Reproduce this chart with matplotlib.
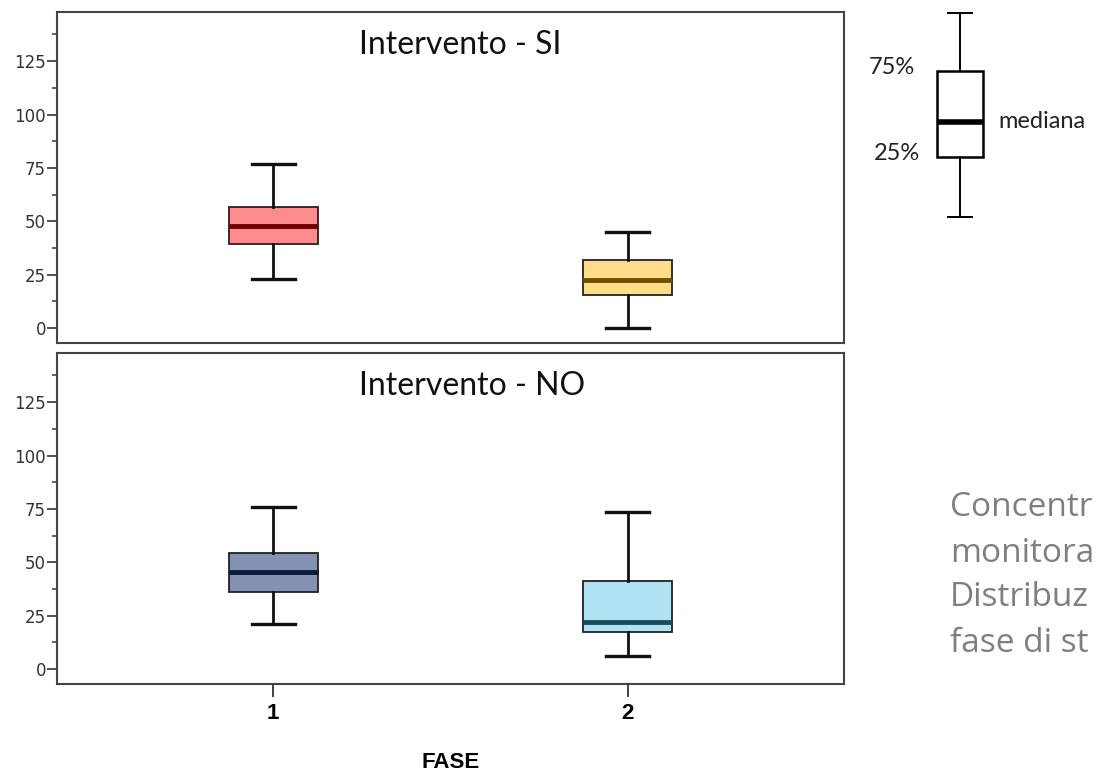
import matplotlib
matplotlib.use('Agg')
import matplotlib.pyplot as plt
from matplotlib.ticker import MultipleLocator

# box statistics (fase 1, fase 2)
fasi = [1, 2]
fase_labels = ['1', '2']

si_whislo = [23, 0]
si_q1 = [39.5, 15.5]
si_med = [48, 22.5]
si_q3 = [56.5, 32]
si_whishi = [77, 45]

no_whislo = [21, 6]
no_q1 = [36, 17.5]
no_med = [45.5, 22]
no_q3 = [54.5, 41]
no_whishi = [76, 73.5]

si_fill = ['#FF8C8C', '#FFDC8A']
si_median = ['#6E0000', '#6E5000']
no_fill = ['#8391B3', '#B0E2F4']
no_median = ['#0B1A3C', '#1D4D58']

panel_titles = ['Intervento - SI', 'Intervento - NO']
y_ticks = [0, 25, 50, 75, 100, 125]

# schematic box for the key (arbitrary units)
key_stats = {'whislo': 8, 'q1': 68, 'med': 103, 'q3': 154, 'whishi': 212}

# side note as visible in the original (cut by the right border)
note_lines = ['Concentr', 'monitora', 'Distribuz', 'fase di st']

W, H = 1099, 775
fig = plt.figure(figsize=(W / 100, H / 100), dpi=100)


def px_axes(x0, y0, x1, y1):
    # pixel box (top-left origin) -> figure axes
    return fig.add_axes([x0 / W, 1 - y1 / H, (x1 - x0) / W, (y1 - y0) / H])


def draw_panel(ax, whislo, q1, med, q3, whishi, fills, medians, title):
    stats = []
    for i in range(len(fasi)):
        stats.append({'whislo': whislo[i], 'q1': q1[i], 'med': med[i],
                      'q3': q3[i], 'whishi': whishi[i], 'fliers': []})
    bp = ax.bxp(stats, positions=fasi, widths=0.25, capwidths=0.12,
                patch_artist=True, showfliers=False,
                boxprops=dict(edgecolor='#222222', linewidth=1.3),
                whiskerprops=dict(color='#111111', linewidth=2),
                capprops=dict(color='#111111', linewidth=2.4),
                medianprops=dict(linewidth=3.5))
    for patch, fc in zip(bp['boxes'], fills):
        patch.set_facecolor(fc)
    for line, mc in zip(bp['medians'], medians):
        line.set_color(mc)

    ax.set_xlim(0.39, 2.61)
    ax.set_ylim(-7, 148)
    ax.set_yticks(y_ticks)
    ax.yaxis.set_minor_locator(MultipleLocator(12.5))
    ax.tick_params(axis='y', which='major', length=7, width=1.3,
                   labelsize=12, labelcolor='#333333', color='#444444', pad=1)
    ax.tick_params(axis='y', which='minor', length=3.5, width=1.3, color='#555555')
    for sp in ax.spines.values():
        sp.set_color('#444444')
        sp.set_linewidth(1.5)
    ax.text(0.384, 0.9, title, transform=ax.transAxes, ha='left', va='center',
            fontsize=23, family='Lato', color='#111111')


ax_si = px_axes(57, 12, 844, 343)
draw_panel(ax_si, si_whislo, si_q1, si_med, si_q3, si_whishi, si_fill, si_median, panel_titles[0])
ax_si.set_xticks([])

ax_no = px_axes(57, 353, 844, 684)
draw_panel(ax_no, no_whislo, no_q1, no_med, no_q3, no_whishi, no_fill, no_median, panel_titles[1])
ax_no.set_xticks(fasi)
ax_no.set_xticklabels(fase_labels, fontsize=16, fontweight='bold', family='Liberation Sans')
ax_no.tick_params(axis='x', length=9, width=1.3, color='#333333', pad=5)
ax_no.set_xlabel('FASE', fontsize=16, fontweight='bold', family='Liberation Sans', labelpad=20)

# key box
ax_key = px_axes(900, 5, 1020, 225)
kb = ax_key.bxp([dict(key_stats, fliers=[])], positions=[0.5], widths=0.39, capwidths=0.2,
                patch_artist=True, showfliers=False,
                boxprops=dict(facecolor='white', edgecolor='black', linewidth=1.8),
                whiskerprops=dict(color='black', linewidth=1.4),
                capprops=dict(color='black', linewidth=1.4),
                medianprops=dict(color='black', linewidth=4))
ax_key.set_xlim(0, 1)
ax_key.set_ylim(0, 220)
ax_key.axis('off')
ax_key.text(0.125, key_stats['q3'] + 4, '75%', ha='right', va='center', fontsize=17,
            family='Lato', color='#222222')
ax_key.text(0.17, key_stats['q1'] + 4, '25%', ha='right', va='center', fontsize=17,
            family='Lato', color='#222222')
ax_key.text(0.82, key_stats['med'], 'mediana', ha='left', va='center', fontsize=17,
            family='Lato', color='#222222', clip_on=False)

for i, line in enumerate(note_lines):
    fig.text(950 / W, 1 - (508 + 45 * i) / H, line, ha='left', va='center',
             fontsize=24, family='Open Sans', color='#7F7F7F')

fig.savefig('out.png', dpi=100)
